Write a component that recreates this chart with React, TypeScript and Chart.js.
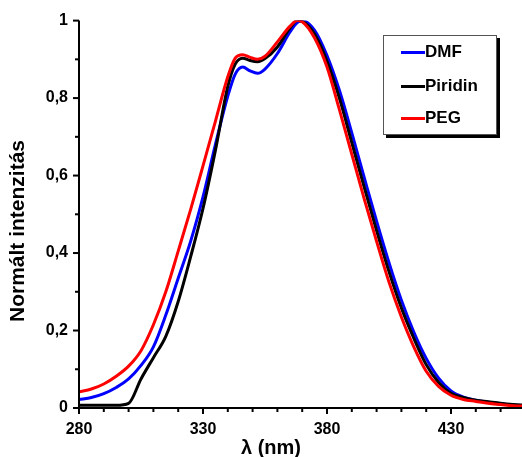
import React, { useEffect, useRef } from "react";
import { Chart, registerables } from "chart.js";

Chart.register(...registerables);

const wavelengths = [280, 285, 290, 295, 300, 305, 310, 315, 320, 325, 330, 335, 340, 343, 346, 349, 352, 355, 360, 365, 368, 370, 375, 380, 385, 390, 395, 400, 405, 410, 415, 420, 425, 430, 435, 440, 445, 450, 455, 460];

const dmf = [0.022, 0.027, 0.037, 0.053, 0.075, 0.11, 0.158, 0.24, 0.335, 0.43, 0.545, 0.68, 0.805, 0.862, 0.88, 0.87, 0.864, 0.875, 0.915, 0.97, 0.995, 1.0, 0.975, 0.91, 0.82, 0.71, 0.595, 0.482, 0.375, 0.278, 0.196, 0.128, 0.077, 0.044, 0.028, 0.02, 0.015, 0.011, 0.008, 0.006];

const piridin = [0.007, 0.007, 0.007, 0.007, 0.012, 0.075, 0.13, 0.185, 0.275, 0.39, 0.515, 0.665, 0.83, 0.888, 0.903, 0.897, 0.894, 0.902, 0.932, 0.98, 1.0, 0.998, 0.965, 0.895, 0.8, 0.685, 0.57, 0.458, 0.352, 0.258, 0.18, 0.112, 0.066, 0.038, 0.027, 0.02, 0.016, 0.012, 0.009, 0.007];

const peg = [0.042, 0.049, 0.062, 0.082, 0.108, 0.148, 0.215, 0.3, 0.405, 0.512, 0.625, 0.74, 0.855, 0.903, 0.912, 0.905, 0.9, 0.908, 0.945, 0.985, 1.0, 0.997, 0.955, 0.88, 0.77, 0.655, 0.54, 0.43, 0.325, 0.235, 0.158, 0.095, 0.056, 0.033, 0.022, 0.017, 0.012, 0.009, 0.006, 0.005];

const seriesNames = ["DMF", "Piridin", "PEG"];
const seriesColors = ["#0000FF", "#000000", "#FF0000"];
const xMajorTicks = [280, 330, 380, 430];
const yMajorTicks = [0, 0.2, 0.4, 0.6, 0.8, 1];
const xTitle = "λ (nm)";
const yTitle = "Normált intenzitás";

const FONT = "'Liberation Sans', Arial, sans-serif";

const W = 522;
const H = 457;

const decorPlugin = {
  id: "decor",
  afterDraw(chart: any) {
    const { ctx, chartArea } = chart;
    const xs = chart.scales.x;
    const ys = chart.scales.y;
    ctx.save();
    ctx.strokeStyle = "#000";
    ctx.lineWidth = 2;
    ctx.beginPath();
    ctx.moveTo(chartArea.left, chartArea.top);
    ctx.lineTo(chartArea.left, chartArea.bottom);
    ctx.lineTo(chartArea.right, chartArea.bottom);
    ctx.stroke();
    for (let v = 280; v <= xs.max; v += 10) {
      const px = xs.getPixelForValue(v);
      const major = xMajorTicks.includes(v);
      ctx.beginPath();
      ctx.moveTo(px, chartArea.bottom);
      ctx.lineTo(px, chartArea.bottom + (major ? 6 : 4));
      ctx.stroke();
    }
    for (let i = 0; i <= 10; i++) {
      const v = i / 10;
      const py = ys.getPixelForValue(v);
      const major = i % 2 === 0;
      ctx.beginPath();
      ctx.moveTo(chartArea.left - (major ? 6 : 4), py);
      ctx.lineTo(chartArea.left, py);
      ctx.stroke();
    }
    ctx.fillStyle = "#000";
    ctx.textAlign = "center";
    ctx.textBaseline = "middle";
    ctx.font = `bold 20px ${FONT}`;
    ctx.fillText(xTitle, 271, 448);
    ctx.translate(18, 231);
    ctx.rotate(-Math.PI / 2);
    ctx.font = `bold 21px ${FONT}`;
    ctx.fillText(yTitle, 0, 0);
    ctx.restore();
  },
};

export default function App() {
  const ref = useRef<HTMLCanvasElement>(null);

  useEffect(() => {
    if (!ref.current) return;
    const datasets = [dmf, piridin, peg].map((vals, i) => ({
      label: seriesNames[i],
      data: wavelengths.map((w, j) => ({ x: w, y: vals[j] })),
      borderColor: seriesColors[i],
      backgroundColor: seriesColors[i],
      borderWidth: 3,
      pointRadius: 0,
      cubicInterpolationMode: "monotone" as const,
      fill: false,
      order: 3 - i,
    }));
    const chart = new Chart(ref.current, {
      type: "line",
      data: { datasets },
      plugins: [decorPlugin],
      options: {
        animation: false,
        responsive: false,
        devicePixelRatio: 1,
        layout: { padding: { top: 19, left: 0, right: 0, bottom: 0 } },
        plugins: { legend: { display: false }, tooltip: { enabled: false } },
        scales: {
          x: {
            type: "linear",
            min: 280,
            max: 280 + 443 / 2.48,
            afterFit: (s: any) => {
              s.height = 49;
            },
            afterBuildTicks: (s: any) => {
              s.ticks = xMajorTicks.map((v) => ({ value: v }));
            },
            grid: { display: false, drawTicks: false },
            border: { display: false },
            ticks: {
              color: "#000",
              padding: 12,
              maxRotation: 0,
              autoSkip: false,
              font: { family: FONT, size: 16, weight: "bold" },
              callback: (v: any) => String(v),
            },
          },
          y: {
            type: "linear",
            min: 0,
            max: 1,
            afterFit: (s: any) => {
              s.width = 79;
            },
            afterBuildTicks: (s: any) => {
              s.ticks = yMajorTicks.map((v) => ({ value: v }));
            },
            grid: { display: false, drawTicks: false },
            border: { display: false },
            ticks: {
              color: "#000",
              padding: 11,
              autoSkip: false,
              font: { family: FONT, size: 16, weight: "bold" },
              callback: (v: any) => String(Math.round(Number(v) * 10) / 10).replace(".", ","),
            },
          },
        },
      },
    });
    return () => chart.destroy();
  }, []);

  const rowCenters = [17, 51, 83];

  return (
    <div style={{ position: "fixed", left: 0, top: 0, width: W, height: H, background: "#fff" }}>
      <canvas ref={ref} width={W} height={H} style={{ width: W, height: H, display: "block" }} />
      <div
        style={{
          position: "absolute",
          left: 383,
          top: 35,
          width: 114,
          height: 100,
          boxSizing: "border-box",
          border: "1px solid #555",
          boxShadow: "3px 3px 0 #000",
          background: "#fff",
          fontFamily: FONT,
          fontWeight: "bold",
          fontSize: 17,
        }}
      >
        {seriesNames.map((name, i) => (
          <div key={name}>
            <div
              style={{
                position: "absolute",
                left: 17,
                top: rowCenters[i] - 2.5,
                width: 24,
                height: 3,
                background: seriesColors[i],
              }}
            />
            <div
              style={{
                position: "absolute",
                left: 41,
                top: rowCenters[i] - 11,
                height: 20,
                lineHeight: "20px",
                color: "#000",
                whiteSpace: "nowrap",
              }}
            >
              {name}
            </div>
          </div>
        ))}
      </div>
    </div>
  );
}
